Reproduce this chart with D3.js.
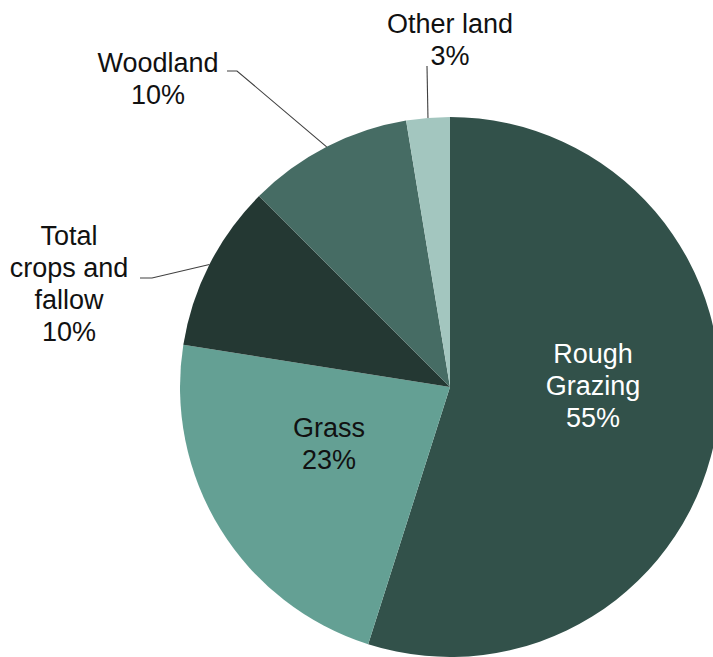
<!DOCTYPE html>
<html>
<head>
<meta charset="utf-8">
<script src="https://cdn.jsdelivr.net/npm/d3@7"></script>
<style>
  html, body { margin: 0; padding: 0; background: #fff; }
  svg { display: block; }
  text { font-family: "Liberation Sans", Arial, sans-serif; }
</style>
</head>
<body>
<svg id="chart" width="713" height="657"></svg>
<script>
// Data
const categories = ["Rough Grazing", "Grass", "Total crops and fallow", "Woodland", "Other land"];
const values = [54.9, 22.6, 10.0, 9.9, 2.6];
const percentLabels = ["55%", "23%", "10%", "10%", "3%"];
const labelLines = [["Rough", "Grazing"], ["Grass"], ["Total", "crops and", "fallow"], ["Woodland"], ["Other land"]];

// Styles
const colors = ["#32514a", "#64a094", "#243833", "#466c64", "#a3c6bf"];
const textColors = ["#ffffff", "#111111", "#111111", "#111111", "#111111"];

const W = 713, H = 657;
const cx = 450, cy = 387, R = 270;
const fontSize = 27, lineH = 32;

// label layout: anchor x (center), first baseline y, and leader line start points (label side)
const labelLayout = [
  { x: 593, y: 363, leader: null },
  { x: 329, y: 437, leader: null },
  { x: 69,  y: 245, leader: [[140, 278], [152, 278]] },
  { x: 158, y: 72,  leader: [[227, 71], [237, 71]] },
  { x: 450, y: 33,  leader: [[427, 66]] }
];

const svg = d3.select("#chart");
const g = svg.append("g").attr("transform", `translate(${cx},${cy})`);

const data = categories.map((c, i) => ({ name: c, value: values[i], idx: i }));
const pie = d3.pie().value(d => d.value).sort(null);
const arcs = pie(data);
const arc = d3.arc().innerRadius(0).outerRadius(R);
const edgeArc = d3.arc().innerRadius(R).outerRadius(R);

g.selectAll("path.slice")
  .data(arcs)
  .join("path")
  .attr("class", "slice")
  .attr("d", arc)
  .attr("fill", d => colors[d.data.idx]);

// leader lines
arcs.forEach(a => {
  const L = labelLayout[a.data.idx];
  if (!L.leader) return;
  const end = edgeArc.centroid(a);
  const pts = L.leader.map(p => [p[0], p[1]]).concat([[cx + end[0], cy + end[1]]]);
  svg.append("path")
    .attr("d", d3.line()(pts))
    .attr("fill", "none")
    .attr("stroke", "#404040")
    .attr("stroke-width", 1.1);
});

// labels
arcs.forEach(a => {
  const i = a.data.idx;
  const L = labelLayout[i];
  const lines = labelLines[i].concat([percentLabels[i]]);
  const t = svg.append("text")
    .attr("text-anchor", "middle")
    .attr("font-size", fontSize)
    .attr("fill", textColors[i]);
  lines.forEach((ln, k) => {
    t.append("tspan").attr("x", L.x).attr("y", L.y + k * lineH).text(ln);
  });
});
</script>
</body>
</html>
